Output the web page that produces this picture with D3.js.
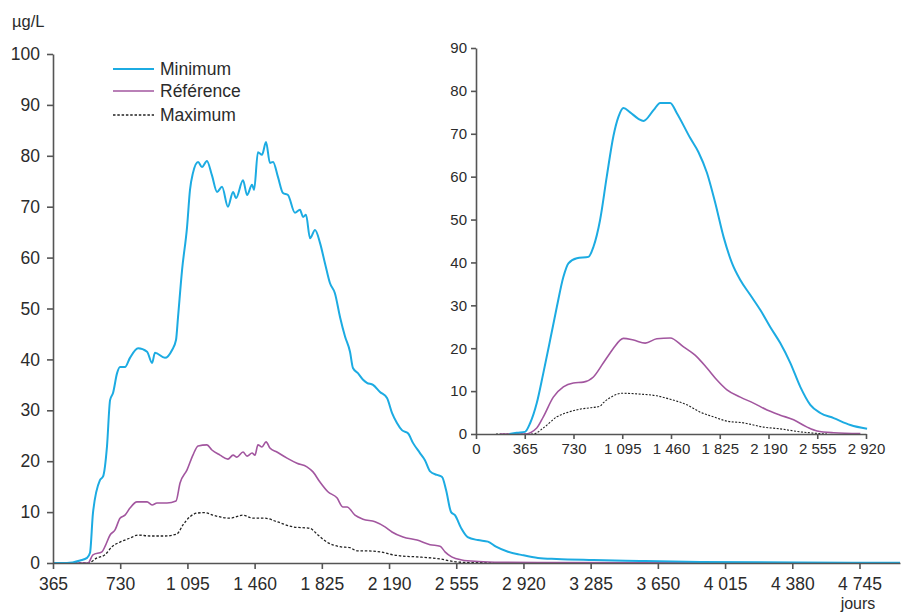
<!DOCTYPE html>
<html>
<head>
<meta charset="utf-8">
<script src="https://cdn.jsdelivr.net/npm/d3@7"></script>
<style>
  body { margin: 0; background: #fff; }
  text { font-family: "Liberation Sans", Arial, sans-serif; fill: #2b2b2b; }
</style>
</head>
<body>
<script>
// jours / µg/L
var MAIN_TICKS_X = [365, 730, 1095, 1460, 1825, 2190, 2555, 2920, 3285, 3650, 4015, 4380, 4745];
var MAIN_TICKS_Y = [0, 10, 20, 30, 40, 50, 60, 70, 80, 90, 100];
var INSET_TICKS_X = [0, 365, 730, 1095, 1460, 1825, 2190, 2555, 2920];
var INSET_TICKS_Y = [0, 10, 20, 30, 40, 50, 60, 70, 80, 90];
var LEGEND = ["Minimum", "Référence", "Maximum"];

var mainMinimum = [[365, 0], [441, 0], [512, 0.5], [550, 1], [566, 2], [582, 9.8], [620, 16.3], [637, 17], [658, 22.8],
  [675, 32], [691, 33.4], [713, 37.3], [729, 38.5], [756, 38.5], [783, 40.3], [827, 42.2], [876, 41.5], [903, 39.3],
  [919, 41.3], [973, 40.3], [1011, 41.8], [1033, 43.8], [1044, 48.3], [1066, 57.6], [1093, 66], [1109, 73.3],
  [1125, 76.6], [1153, 78.8], [1174, 77.8], [1201, 79], [1228, 76.2], [1256, 72.9], [1283, 73.9], [1315, 70],
  [1343, 72.9], [1359, 71.7], [1397, 75.2], [1419, 72.3], [1446, 74.3], [1457, 73.3], [1478, 80.7], [1500, 80.2],
  [1522, 82.7], [1543, 78.6], [1560, 78.8], [1587, 75.8], [1614, 72.7], [1641, 72.3], [1679, 68.8], [1706, 69.4],
  [1723, 68], [1739, 68.4], [1761, 63.8], [1788, 65.4], [1815, 62.9], [1842, 58.9], [1869, 55], [1896, 53],
  [1924, 48.3], [1951, 44.5], [1978, 41.5], [1994, 38.3], [2021, 37.3], [2049, 36], [2070, 35.4], [2103, 35],
  [2141, 33.6], [2179, 32.4], [2206, 29.5], [2233, 27.5], [2260, 26.1], [2293, 25.5], [2320, 23.6], [2358, 21.6],
  [2385, 20.2], [2413, 18], [2451, 17.3], [2478, 16.9], [2500, 14.3], [2527, 10], [2548, 9.4], [2581, 6.9],
  [2617, 5.1], [2672, 4.5], [2727, 4.2], [2771, 3.2], [2836, 2.2], [2908, 1.6], [2999, 1], [3100, 0.8],
  [3300, 0.6], [3553, 0.4], [3879, 0.2], [4422, 0.1], [4965, 0.05]];

var mainReference = [[365, 0], [555, 0], [582, 1.6], [631, 2.2], [647, 3.2], [675, 5.5], [702, 6.5], [729, 8.8],
  [756, 9.4], [783, 10.8], [821, 12], [876, 12], [903, 11.4], [930, 11.8], [984, 11.8], [1033, 12.2], [1055, 15.7],
  [1093, 18.3], [1125, 21.2], [1153, 23], [1201, 23.2], [1228, 22.2], [1272, 21.2], [1315, 20.4], [1343, 21.2],
  [1364, 20.8], [1397, 21.8], [1419, 21], [1446, 21.6], [1462, 21.2], [1478, 23.2], [1500, 22.8], [1522, 23.8],
  [1543, 22.6], [1581, 21.8], [1636, 20.6], [1690, 19.6], [1744, 18.9], [1777, 17.9], [1815, 15.9], [1858, 14],
  [1907, 12.8], [1940, 11], [1962, 11], [2005, 9.4], [2049, 8.6], [2114, 8.1], [2168, 7.1], [2206, 6.1],
  [2266, 5.1], [2342, 4.5], [2413, 3.6], [2467, 3.3], [2494, 2.2], [2530, 1.2], [2585, 0.6], [2676, 0.3],
  [2800, 0.15], [3010, 0.1], [4965, 0]];

var mainMaximum = [[365, 0], [555, 0], [604, 1], [647, 1.6], [685, 3.2], [729, 4.1], [783, 4.9], [827, 5.5],
  [892, 5.3], [973, 5.3], [1038, 5.7], [1071, 7.5], [1109, 9.1], [1147, 9.8], [1191, 9.9], [1234, 9.4],
  [1326, 8.8], [1397, 9.4], [1451, 8.8], [1516, 8.8], [1582, 8.1], [1668, 7.1], [1761, 6.8], [1804, 5.5],
  [1853, 4.1], [1924, 3.2], [1978, 3], [2016, 2.4], [2049, 2.4], [2141, 2.2], [2212, 1.6], [2250, 1.4],
  [2342, 1.2], [2467, 0.8], [2559, 0.2], [2684, 0.05], [4965, 0]];

var insetMinimum = [[250, 0], [305, 0.3], [367, 0.5], [405, 2.5], [455, 7.2], [504, 14.2], [555, 21.9],
  [605, 29.6], [654, 36.6], [692, 39.8], [755, 41], [842, 41.3], [879, 43.6], [929, 49.9], [979, 60],
  [1029, 69.5], [1067, 74], [1104, 76], [1154, 75], [1216, 73.5], [1254, 73], [1329, 75.5], [1379, 77.2],
  [1454, 77.2], [1504, 74.8], [1604, 69], [1666, 65.7], [1729, 60.9], [1791, 53.9], [1854, 45.9],
  [1916, 39.9], [1979, 35.9], [2054, 32.4], [2129, 28.9], [2204, 24.9], [2278, 21.2], [2353, 16.6],
  [2428, 11], [2503, 6.8], [2578, 4.9], [2678, 3.7], [2803, 2.1], [2928, 1.2]];

var insetReference = [[180, 0], [367, 0], [455, 1.4], [504, 4], [579, 8.6], [654, 11], [729, 11.9], [804, 12.1],
  [879, 13.3], [954, 16.6], [1004, 18.9], [1029, 20], [1104, 22.3], [1179, 21.9], [1267, 21.2], [1354, 22.2],
  [1454, 22.4], [1554, 20.3], [1654, 18], [1729, 15.4], [1804, 12.6], [1879, 10.3], [1979, 8.6], [2078, 7.2],
  [2179, 5.6], [2278, 4.4], [2378, 3.3], [2479, 1.6], [2554, 0.7], [2678, 0.3], [2878, 0.1]];

var insetMaximum = [[150, 0], [429, 0], [504, 1.4], [605, 4], [692, 5.1], [779, 5.8], [854, 6.1], [929, 6.5],
  [954, 7.3], [1029, 8.9], [1092, 9.5], [1229, 9.3], [1354, 8.9], [1454, 8.1], [1579, 6.8], [1679, 5.1],
  [1779, 4], [1879, 3], [2003, 2.6], [2153, 1.6], [2278, 1.2], [2428, 0.5], [2528, 0.2], [2628, 0]];

var BLUE = "#1cabe2";
var PURPLE = "#a2569f";
var AXIS = "#555";

var svg = d3.select("body").append("svg").attr("width", 901).attr("height", 613);

function fmt(d) {
  // séparateur de milliers = espace
  return d3.format(",")(d).replace(",", " ");
}

function styleAxis(g, size) {
  g.select(".domain").attr("stroke", AXIS).attr("stroke-width", 1.6);
  g.selectAll(".tick line").attr("stroke", AXIS).attr("stroke-width", 1.6);
  g.selectAll(".tick text").attr("fill", "#2b2b2b").style("font-size", size + "px").style("font-family", "'Liberation Sans', Arial, sans-serif");
}

function series(g, x, y, data, color, width, dash, curve) {
  var line = d3.line().x(function (d) { return x(d[0]); }).y(function (d) { return y(d[1]); }).curve(curve);
  var p = g.append("path").datum(data).attr("d", line).attr("fill", "none").attr("stroke", color).attr("stroke-width", width).attr("stroke-linejoin", "round");
  if (dash) p.attr("stroke-dasharray", dash);
}

// --- graphique principal
var x = d3.scaleLinear().domain([365, 4965]).range([53, 900]);
var y = d3.scaleLinear().domain([0, 100]).range([563, 54]);

var main = svg.append("g");
series(main, x, y, mainMaximum, "#222", 1.3, "2.5,1.8", d3.curveMonotoneX);
series(main, x, y, mainReference, PURPLE, 1.6, null, d3.curveMonotoneX);
series(main, x, y, mainMinimum, BLUE, 2, null, d3.curveMonotoneX);

var xAxis = main.append("g").attr("transform", "translate(0,563)")
  .call(d3.axisBottom(x).tickValues(MAIN_TICKS_X).tickFormat(fmt).tickSizeInner(6).tickSizeOuter(0).tickPadding(9));
styleAxis(xAxis, 17.5);

var yAxis = main.append("g").attr("transform", "translate(53,0)")
  .call(d3.axisLeft(y).tickValues(MAIN_TICKS_Y).tickSizeInner(6).tickSizeOuter(0).tickPadding(7));
styleAxis(yAxis, 17.5);

svg.append("text").attr("x", 12).attr("y", 27).style("font-size", "16.5px").text("µg/L");
svg.append("text").attr("x", 858).attr("y", 609).attr("text-anchor", "middle").style("font-size", "16px").text("jours");

// légende
var legend = svg.append("g").attr("transform", "translate(113,69)");
var legStyles = [[BLUE, 2, null], [PURPLE, 1.6, null], ["#222", 1.3, "2.5,1.8"]];
LEGEND.forEach(function (name, i) {
  var ly = [0, 22, 46][i];
  var l = legend.append("line").attr("x1", 0).attr("x2", 41).attr("y1", ly).attr("y2", ly)
    .attr("stroke", legStyles[i][0]).attr("stroke-width", legStyles[i][1]);
  if (legStyles[i][2]) l.attr("stroke-dasharray", legStyles[i][2]);
  legend.append("text").attr("x", 47).attr("y", ly + 6).style("font-size", "17.5px").text(name);
});

// --- encart
var xi = d3.scaleLinear().domain([0, 2920]).range([476, 866]);
var yi = d3.scaleLinear().domain([0, 90]).range([434, 48]);

var inset = svg.append("g");
series(inset, xi, yi, insetMaximum, "#222", 1.1, "2,1.5", d3.curveMonotoneX);
series(inset, xi, yi, insetReference, PURPLE, 1.6, null, d3.curveMonotoneX);
series(inset, xi, yi, insetMinimum, BLUE, 2, null, d3.curveMonotoneX);

var xiAxis = inset.append("g").attr("transform", "translate(0,434)")
  .call(d3.axisBottom(xi).tickValues(INSET_TICKS_X).tickFormat(fmt).tickSizeInner(5).tickSizeOuter(0).tickPadding(4));
styleAxis(xiAxis, 15);

var yiAxis = inset.append("g").attr("transform", "translate(476,0)")
  .call(d3.axisLeft(yi).tickValues(INSET_TICKS_Y).tickSizeInner(5).tickSizeOuter(0).tickPadding(4));
styleAxis(yiAxis, 15);
</script>
</body>
</html>
